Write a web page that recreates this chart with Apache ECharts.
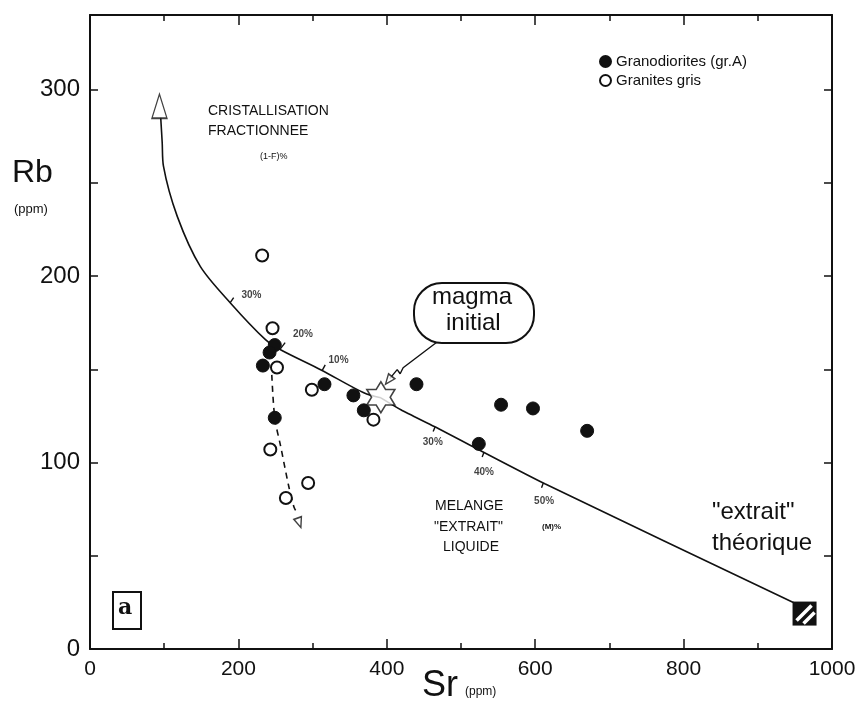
<!DOCTYPE html>
<html>
<head>
<meta charset="utf-8">
<script src="https://cdn.jsdelivr.net/npm/echarts@6/dist/echarts.min.js"></script>
<style>
  html, body { margin: 0; padding: 0; background: #fff; }
  #chart { width: 861px; height: 706px; }
</style>
</head>
<body>
<div id="chart"></div>
<script>
// données (Sr, Rb en ppm)
const granoSr = [249, 242, 233, 249, 316, 355, 369, 440, 554, 597, 670, 524]
const granoRb = [163, 159, 152, 124, 142, 136, 128, 142, 131, 129, 117, 110]
const graniteSr = [232, 246, 252, 243, 294, 264, 299, 382]
const graniteRb = [211, 172, 151, 107, 89, 81, 139, 123]

// courbe de cristallisation fractionnée
const fracSr = [392, 369, 310.8, 256.8, 236.5, 189.2, 148.6, 117.6, 99, 97.3, 95.3]
const fracRb = [134.7, 137.4, 149.8, 160.5, 165.9, 185.6, 205.2, 232, 258.9, 271.6, 285]
// droite de mélange vers l'extrait
const mixSr = [392, 419, 464, 613, 950]
const mixRb = [134.7, 128.3, 119.3, 88.6, 24.5]
// tendance en tirets
const trendSr = [245, 249, 257, 268, 275, 278.4]
const trendRb = [147, 124, 108.6, 87, 76, 73.5]
// liaison "magma initial" -> étoile
const linkSr = [470, 422, 418, 414, 404]
const linkRb = [165.3, 150.8, 147.6, 149.8, 145]

const magma = [392, 135]
const extrait = [963, 19]

// têtes de flèches
const arrowSr = [93.6, 282, 402.4]
const arrowRb = [291.1, 67.7, 144.1]

// repères en % le long des courbes
const pctLabels = ['30%', '20%', '10%', '30%', '40%', '50%']
const pctTickFrom = [[189, 185.7], [256, 160.7], [313, 149.4], [465, 119.1], [531, 105.5], [611, 89.0]]
const pctTickTo = [[193.6, 188.4], [263, 164.3], [317, 152.4], [462.5, 116.6], [528.5, 103], [608.5, 86.5]]
const pctLabelSr = [217.6, 287, 335, 462, 531, 612]
const pctLabelRb = [189.5, 169, 155, 111, 95, 79.5]

const xTicks = [0, 200, 400, 600, 800, 1000]
const yTicks = [0, 100, 200, 300]

const chart = echarts.init(document.getElementById('chart'))

// étoile à six branches
const star = (() => {
  const pts = []
  for (let k = 0; k < 12; k++) {
    const a = (-90 + k * 30) * Math.PI / 180
    const r = k % 2 === 0 ? 1 : 1 / Math.sqrt(3)
    pts.push((r * Math.cos(a)).toFixed(3) + ' ' + (r * Math.sin(a)).toFixed(3))
  }
  return 'path://M' + pts.join(' L') + ' Z'
})()

const font = 'Liberation Sans, Arial, sans-serif'
const black = '#111'
const arrowRot = [0, -161, 142]
const arrowSize = [[15, 24], [8, 10], [8, 10]]

const baseX = {
  type: 'value', min: 0, max: 1000, interval: 200,
  axisLine: { show: true, onZero: false, lineStyle: { color: black, width: 2 } },
  axisTick: { show: true, inside: true, length: 10, lineStyle: { color: black, width: 1.5 } },
  minorTick: { show: true, splitNumber: 2, length: 6, lineStyle: { color: black, width: 1.5 } },
  splitLine: { show: false }
}
const baseY = {
  type: 'value', min: 0, max: 340, interval: 50,
  axisLine: { show: true, onZero: false, lineStyle: { color: black, width: 2 } },
  axisTick: { show: true, inside: true, length: 8, lineStyle: { color: black, width: 1.5 } },
  splitLine: { show: false }
}

const option = {
  backgroundColor: '#fff',
  animation: false,
  grid: { left: 90, right: 29, top: 15, bottom: 57 },
  xAxis: [
    Object.assign({}, baseX, {
      position: 'bottom',
      axisLabel: {
        margin: 10, color: black, fontSize: 21, fontFamily: font,
        formatter: v => (xTicks.includes(v) ? String(v) : '')
      }
    }),
    Object.assign({}, baseX, { position: 'top', axisLabel: { show: false } })
  ],
  yAxis: [
    Object.assign({}, baseY, {
      position: 'left',
      axisLabel: {
        margin: 10, color: black, fontSize: 24, fontFamily: font,
        formatter: v => (yTicks.includes(v) ? String(v) : '')
      }
    }),
    Object.assign({}, baseY, { position: 'right', axisLabel: { show: false } })
  ],
  legend: {
    left: 594, top: 49, orient: 'vertical', itemGap: 4,
    itemWidth: 11, itemHeight: 11,
    textStyle: { fontSize: 15, color: black, fontFamily: font },
    data: [
      { name: 'Granodiorites (gr.A)', icon: 'circle' },
      { name: 'Granites gris', icon: 'circle' }
    ]
  },
  series: [
    {
      name: 'fractionnement', type: 'line', smooth: 0.3, symbol: 'none', z: 2,
      lineStyle: { color: black, width: 1.6 },
      data: fracSr.map((x, i) => [x, fracRb[i]])
    },
    {
      name: 'melange', type: 'line', smooth: 0.2, symbol: 'none', z: 2,
      lineStyle: { color: black, width: 1.6 },
      data: mixSr.map((x, i) => [x, mixRb[i]])
    },
    {
      name: 'tendance', type: 'line', smooth: 0.3, symbol: 'none', z: 2,
      lineStyle: { color: black, width: 1.6, type: [6, 5] },
      data: trendSr.map((x, i) => [x, trendRb[i]])
    },
    {
      name: 'liaison', type: 'line', symbol: 'none', z: 2,
      lineStyle: { color: black, width: 1.4 },
      data: linkSr.map((x, i) => [x, linkRb[i]])
    },
    {
      name: 'reperes', type: 'lines', coordinateSystem: 'cartesian2d', z: 2,
      lineStyle: { color: black, width: 1.4, opacity: 1 },
      data: pctTickFrom.map((p, i) => ({ coords: [p, pctTickTo[i]] }))
    },
    {
      name: 'pourcent', type: 'scatter', symbolSize: 0, z: 3,
      label: {
        show: true, position: 'inside', color: black, fontSize: 10,
        fontWeight: 'bold', fontFamily: font,
        formatter: p => pctLabels[p.dataIndex]
      },
      data: pctLabelSr.map((x, i) => [x, pctLabelRb[i]])
    },
    {
      name: 'fleches', type: 'scatter', symbol: 'triangle', z: 4,
      itemStyle: { color: '#fff', borderColor: black, borderWidth: 1.5 },
      data: arrowSr.map((x, i) => ({
        value: [x, arrowRb[i]], symbolRotate: arrowRot[i], symbolSize: arrowSize[i]
      }))
    },
    {
      name: 'Granodiorites (gr.A)', type: 'scatter', symbol: 'circle', symbolSize: 13, z: 5,
      itemStyle: { color: black, borderColor: black, borderWidth: 1, opacity: 1 },
      data: granoSr.map((x, i) => [x, granoRb[i]])
    },
    {
      name: 'Granites gris', type: 'scatter', symbol: 'circle', symbolSize: 12, z: 6,
      itemStyle: { color: '#fff', borderColor: black, borderWidth: 2, opacity: 1 },
      data: graniteSr.map((x, i) => [x, graniteRb[i]])
    },
    {
      name: 'magma', type: 'scatter', symbol: star, symbolSize: [28, 31], z: 7,
      itemStyle: { color: '#fff', borderColor: black, borderWidth: 1.6 },
      data: [magma]
    },
    {
      name: 'extrait', type: 'custom', z: 7,
      renderItem: (params, api) => {
        const p = api.coord([api.value(0), api.value(1)])
        return {
          type: 'group', x: p[0], y: p[1],
          children: [
            { type: 'rect', shape: { x: -12, y: -12, width: 24, height: 24 }, style: { fill: black } },
            { type: 'line', shape: { x1: -8, y1: 7, x2: 7, y2: -8 }, style: { stroke: '#fff', lineWidth: 3.5 } },
            { type: 'line', shape: { x1: -1, y1: 10, x2: 10, y2: -1 }, style: { stroke: '#fff', lineWidth: 3.5 } }
          ]
        }
      },
      data: [extrait]
    }
  ],
  graphic: [
    { type: 'text', left: 12, top: 157, style: { text: 'Rb', font: '32px ' + font, fill: black } },
    { type: 'text', left: 14, top: 203, style: { text: '(ppm)', font: '13px ' + font, fill: black } },
    { type: 'text', left: 422, top: 668, style: { text: 'Sr', font: '36px ' + font, fill: black } },
    { type: 'text', left: 465, top: 686, style: { text: '(ppm)', font: '12px ' + font, fill: black } },
    { type: 'text', left: 208, top: 104, style: { text: 'CRISTALLISATION', font: '14px ' + font, fill: black } },
    { type: 'text', left: 208, top: 124, style: { text: 'FRACTIONNEE', font: '14px ' + font, fill: black } },
    { type: 'text', left: 260, top: 152, style: { text: '(1-F)%', font: '9px ' + font, fill: black } },
    {
      type: 'rect', left: 413, top: 282, z: 10,
      shape: { width: 120, height: 60, r: 28 },
      style: { fill: '#fff', stroke: black, lineWidth: 2 }
    },
    { type: 'text', left: 432, top: 285, z: 11, style: { text: 'magma', font: '24px ' + font, fill: black } },
    { type: 'text', left: 446, top: 311, z: 11, style: { text: 'initial', font: '24px ' + font, fill: black } },
    { type: 'text', left: 435, top: 499, style: { text: 'MELANGE', font: '14px ' + font, fill: black } },
    { type: 'text', left: 434, top: 520, style: { text: '"EXTRAIT"', font: '14px ' + font, fill: black } },
    { type: 'text', left: 542, top: 523, style: { text: '(M)%', font: 'bold 8px ' + font, fill: black } },
    { type: 'text', left: 443, top: 540, style: { text: 'LIQUIDE', font: '14px ' + font, fill: black } },
    { type: 'text', left: 712, top: 500, style: { text: '"extrait"', font: '24px ' + font, fill: black } },
    { type: 'text', left: 712, top: 531, style: { text: 'théorique', font: '24px ' + font, fill: black } },
    {
      type: 'rect', left: 112, top: 591,
      shape: { width: 28, height: 37 },
      style: { fill: '#fff', stroke: black, lineWidth: 2 }
    },
    { type: 'text', left: 118, top: 597, style: { text: 'a', font: 'bold 22px DejaVu Serif, serif', fill: black } }
  ]
}

chart.setOption(option)
</script>
</body>
</html>
